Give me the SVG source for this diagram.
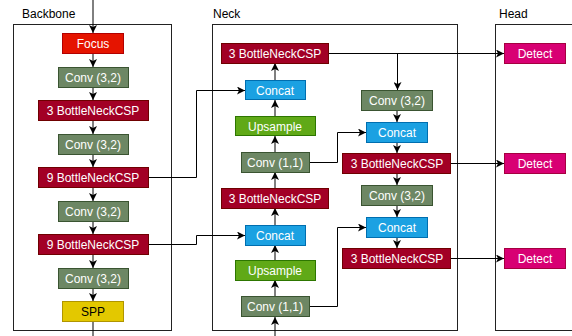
<svg xmlns="http://www.w3.org/2000/svg" width="572" height="336" viewBox="0 0 572 336">
<style>
.cont{fill:#fff;stroke:#222;stroke-width:1}
.ttl{font-family:"Liberation Sans",Arial,sans-serif;font-size:12px;fill:#000}
.lbl{font-family:"Liberation Sans",Arial,sans-serif;font-size:12px;fill:#fff;text-anchor:middle}
.dk{fill:#000}
.red{fill:#e51400;stroke:#b20000}
.conv{fill:#6d8764;stroke:#3a5431}
.csp{fill:#a20025;stroke:#6f0000}
.spp{fill:#e3c800;stroke:#b09500}
.cat{fill:#1ba1e2;stroke:#006eaf}
.up{fill:#60a917;stroke:#2d7600}
.det{fill:#d80073;stroke:#a50040}
.e{fill:none;stroke:#000;stroke-width:1}
</style>
<defs>
<marker id="ah" viewBox="0 0 8 8" refX="8" refY="4" markerWidth="8" markerHeight="8" markerUnits="userSpaceOnUse" orient="auto">
<path d="M0,0 L8,4 L0,8 L2,4 z" fill="#000"/>
</marker>
</defs>
<g id="containers">
<rect class="cont" x="13.5" y="24.5" width="158" height="306"/>
<text class="ttl" x="22" y="18">Backbone</text>
<rect class="cont" x="212.5" y="24.5" width="245" height="306"/>
<text class="ttl" x="213" y="18">Neck</text>
<rect class="cont" x="495.5" y="24.5" width="90" height="306"/>
<text class="ttl" x="499" y="18">Head</text>
</g>
<g id="connectors">
<path class="e" d="M93,0 V33" marker-end="url(#ah)"/>
<path class="e" d="M93,54 V67" marker-end="url(#ah)"/>
<path class="e" d="M93,88 V100" marker-end="url(#ah)"/>
<path class="e" d="M93,121 V134" marker-end="url(#ah)"/>
<path class="e" d="M93,155 V167" marker-end="url(#ah)"/>
<path class="e" d="M93,188 V201" marker-end="url(#ah)"/>
<path class="e" d="M93,222 V234" marker-end="url(#ah)"/>
<path class="e" d="M93,255 V268" marker-end="url(#ah)"/>
<path class="e" d="M93,289 V301" marker-end="url(#ah)"/>
<path class="e" d="M93,322 V336"/>
<path class="e" d="M148,177.5 H196.5 V90.5 H245" marker-end="url(#ah)"/>
<path class="e" d="M148,244.5 H196.5 V235.5 H245" marker-end="url(#ah)"/>
<path class="e" d="M275,336 V317" marker-end="url(#ah)"/>
<path class="e" d="M275,296 V280" marker-end="url(#ah)"/>
<path class="e" d="M275,260 V245" marker-end="url(#ah)"/>
<path class="e" d="M275,225 V208" marker-end="url(#ah)"/>
<path class="e" d="M275,188 V172" marker-end="url(#ah)"/>
<path class="e" d="M275,152 V136" marker-end="url(#ah)"/>
<path class="e" d="M275,116 V100" marker-end="url(#ah)"/>
<path class="e" d="M275,80 V63" marker-end="url(#ah)"/>
<path class="e" d="M329,53.5 H504" marker-end="url(#ah)"/>
<path class="e" d="M397.5,53.5 V90" marker-end="url(#ah)"/>
<path class="e" d="M309,162.5 H337.5 V132.5 H366" marker-end="url(#ah)"/>
<path class="e" d="M309,306.5 H337.5 V227.5 H366" marker-end="url(#ah)"/>
<path class="e" d="M397,111 V122" marker-end="url(#ah)"/>
<path class="e" d="M397,142 V153" marker-end="url(#ah)"/>
<path class="e" d="M397,174 V185" marker-end="url(#ah)"/>
<path class="e" d="M397,205 V217" marker-end="url(#ah)"/>
<path class="e" d="M397,237 V248" marker-end="url(#ah)"/>
<path class="e" d="M451,163.5 H504" marker-end="url(#ah)"/>
<path class="e" d="M451,258.5 H504" marker-end="url(#ah)"/>
</g>
<g id="focus"><rect class="red" x="62.5" y="33.5" width="61" height="20"/><text class="lbl" x="93" y="48">Focus</text></g>
<g id="b_conv1"><rect class="conv" x="58.5" y="67.5" width="70" height="20"/><text class="lbl" x="93" y="82">Conv (3,2)</text></g>
<g id="b_csp1"><rect class="csp" x="38.5" y="100.5" width="110" height="20"/><text class="lbl" x="93" y="115">3 BottleNeckCSP</text></g>
<g id="b_conv2"><rect class="conv" x="58.5" y="134.5" width="70" height="20"/><text class="lbl" x="93" y="149">Conv (3,2)</text></g>
<g id="b_csp2"><rect class="csp" x="38.5" y="167.5" width="110" height="20"/><text class="lbl" x="93" y="182">9 BottleNeckCSP</text></g>
<g id="b_conv3"><rect class="conv" x="58.5" y="201.5" width="70" height="20"/><text class="lbl" x="93" y="216">Conv (3,2)</text></g>
<g id="b_csp3"><rect class="csp" x="38.5" y="234.5" width="110" height="20"/><text class="lbl" x="93" y="249">9 BottleNeckCSP</text></g>
<g id="b_conv4"><rect class="conv" x="58.5" y="268.5" width="70" height="20"/><text class="lbl" x="93" y="283">Conv (3,2)</text></g>
<g id="spp"><rect class="spp" x="62.5" y="301.5" width="61" height="20"/><text class="lbl dk" x="93" y="316">SPP</text></g>
<g id="n_csp1"><rect class="csp" x="221.5" y="43.5" width="107" height="20"/><text class="lbl" x="275" y="58">3 BottleNeckCSP</text></g>
<g id="n_concat1"><rect class="cat" x="245.5" y="80.5" width="60" height="19"/><text class="lbl" x="275" y="94.5">Concat</text></g>
<g id="n_up1"><rect class="up" x="235.5" y="116.5" width="80" height="19"/><text class="lbl" x="275" y="130.5">Upsample</text></g>
<g id="n_conv1"><rect class="conv" x="241.5" y="152.5" width="68" height="20"/><text class="lbl" x="275" y="167">Conv (1,1)</text></g>
<g id="n_csp2"><rect class="csp" x="221.5" y="188.5" width="107" height="20"/><text class="lbl" x="275" y="203">3 BottleNeckCSP</text></g>
<g id="n_concat2"><rect class="cat" x="245.5" y="225.5" width="60" height="20"/><text class="lbl" x="275" y="240">Concat</text></g>
<g id="n_up2"><rect class="up" x="235.5" y="260.5" width="80" height="20"/><text class="lbl" x="275" y="275">Upsample</text></g>
<g id="n_conv2"><rect class="conv" x="241.5" y="296.5" width="68" height="20"/><text class="lbl" x="275" y="311">Conv (1,1)</text></g>
<g id="c2_conv1"><rect class="conv" x="361.5" y="90.5" width="71" height="20"/><text class="lbl" x="397" y="105">Conv (3,2)</text></g>
<g id="c2_concat1"><rect class="cat" x="366.5" y="122.5" width="61" height="20"/><text class="lbl" x="397" y="137">Concat</text></g>
<g id="c2_csp1"><rect class="csp" x="342.5" y="153.5" width="108" height="20"/><text class="lbl" x="397" y="168">3 BottleNeckCSP</text></g>
<g id="c2_conv2"><rect class="conv" x="361.5" y="185.5" width="71" height="20"/><text class="lbl" x="397" y="200">Conv (3,2)</text></g>
<g id="c2_concat2"><rect class="cat" x="366.5" y="217.5" width="61" height="20"/><text class="lbl" x="397" y="232">Concat</text></g>
<g id="c2_csp2"><rect class="csp" x="342.5" y="248.5" width="108" height="20"/><text class="lbl" x="397" y="263">3 BottleNeckCSP</text></g>
<g id="det1"><rect class="det" x="504.5" y="43.5" width="61" height="20"/><text class="lbl" x="535" y="58">Detect</text></g>
<g id="det2"><rect class="det" x="504.5" y="153.5" width="61" height="20"/><text class="lbl" x="535" y="168">Detect</text></g>
<g id="det3"><rect class="det" x="504.5" y="248.5" width="61" height="20"/><text class="lbl" x="535" y="263">Detect</text></g>
</svg>
